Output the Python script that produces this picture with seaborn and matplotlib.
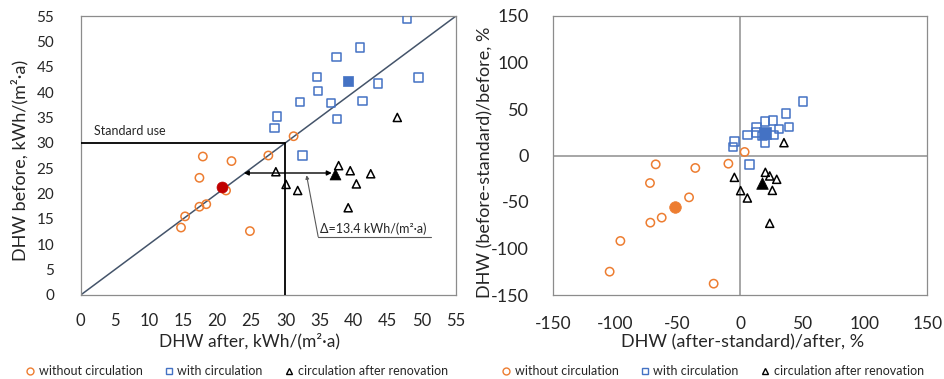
import matplotlib
matplotlib.use("Agg")
import matplotlib.pyplot as plt
from matplotlib.lines import Line2D
import numpy as np
import seaborn as sns

# ---- absolute DHW demand, kWh/(m2 a): after vs. before ----
after_without = [14.7, 15.3, 17.4, 18.4, 17.4, 17.9, 22.1, 21.3, 24.8, 27.5, 31.2]
before_without = [13.3, 15.5, 17.4, 17.9, 23.1, 27.3, 26.4, 20.6, 12.6, 27.5, 31.3]
mean_after_without, mean_before_without = 20.7, 21.2

after_with = [47.8, 40.9, 37.5, 34.6, 34.8, 49.5, 43.6, 32.1, 36.7, 41.3, 37.6, 28.8, 28.4, 32.5]
before_with = [54.5, 48.8, 46.9, 43.0, 40.2, 42.9, 41.7, 38.1, 37.9, 38.2, 34.7, 35.2, 32.9, 27.5]
mean_after_with, mean_before_with = 39.1, 42.2

after_renov = [46.4, 37.8, 39.5, 42.5, 40.4, 39.2, 28.6, 30.1, 31.8]
before_renov = [35.0, 25.5, 24.5, 23.9, 21.9, 17.2, 24.3, 21.8, 20.6]
mean_after_renov, mean_before_renov = 37.3, 23.9

standard_use = 30
delta_renov = 13.4

# ---- relative deviation from the standard, % ----
rel_after_without = [-104.4, -95.8, -71.8, -62.7, -72.1, -67.5, -40.8, -35.8, -9.3, 3.7, -21.1]
rel_before_without = [-124.9, -91.9, -72.2, -66.8, -29.6, -9.5, -45.0, -13.4, -8.8, 3.8, -137.8]
rel_mean_without = (-51.8, -55.0)

rel_after_with = [50.7, 36.8, 39.2, 26.4, 20.0, 31.2, 13.1, 13.1, 17.9, 27.0, 20.0, 5.9, -4.3, -5.6, 7.5]
rel_before_with = [58.2, 45.3, 30.3, 37.8, 36.4, 28.5, 30.3, 24.6, 21.0, 21.7, 13.4, 21.7, 15.2, 9.1, -9.5]
rel_mean_with = (20.3, 24.6)

rel_after_renov = [35.2, -4.5, 0.5, 5.9, 20.3, 23.8, 29.4, 25.9, 23.8]
rel_before_renov = [13.8, -23.5, -37.8, -45.7, -18.1, -22.0, -25.6, -37.5, -72.9]
rel_mean_renov = (17.9, -29.9)

labels = ["without circulation", "with circulation", "circulation after renovation"]

ORANGE = "#ED7D31"
BLUE = "#4472C4"
DARKRED = "#C00000"
GRID_GREY = "#8C8C8C"

sns.set_theme(style="white")
FONT = ["Lato", "DejaVu Sans"]
plt.rcParams["font.family"] = FONT
plt.rcParams["text.color"] = "#262626"
plt.rcParams["axes.unicode_minus"] = False

fig = plt.figure(figsize=(9.44, 3.79), dpi=100)
ax1 = fig.add_axes([80.7 / 944, 1 - 295 / 379, 375.3 / 944, 279 / 379])
ax2 = fig.add_axes([552.7 / 944, 1 - 295 / 379, 374.6 / 944, 279 / 379])


def hollow(ax, x, y, marker, color, size=36):
    sns.scatterplot(x=x, y=y, ax=ax, marker=marker, s=size, color=color,
                    facecolor="none", edgecolor=color, linewidth=1.1, zorder=4)


def solid(ax, x, y, marker, color, size=60):
    sns.scatterplot(x=[x], y=[y], ax=ax, marker=marker, s=size, color=color,
                    edgecolor=color, linewidth=0.5, zorder=5)


# ---------------- left panel ----------------
ax1.plot([0, 55], [0, 55], color="#44546A", lw=1.1, zorder=2)
ax1.plot([0, standard_use], [standard_use, standard_use], color="black", lw=1.3, zorder=3)
ax1.plot([standard_use, standard_use], [0, standard_use], color="black", lw=1.3, zorder=3)
ax1.text(1.9, 32.3, "Standard use", fontsize=9, va="center", ha="left")

hollow(ax1, after_without, before_without, "o", ORANGE)
hollow(ax1, after_with, before_with, "s", BLUE)
hollow(ax1, after_renov, before_renov, "^", "black", size=34)
solid(ax1, mean_after_without, mean_before_without, "o", DARKRED, 62)
solid(ax1, mean_after_with, mean_before_with, "s", BLUE, 62)
solid(ax1, mean_after_renov, mean_before_renov, "^", "black", 62)

# saving after renovation
ax1.annotate("", xy=(mean_after_renov - delta_renov, 24.05), xytext=(mean_after_renov - 0.5, 24.05),
             arrowprops=dict(arrowstyle="<|-|>", color="black", lw=1.0,
                             mutation_scale=7, shrinkA=0, shrinkB=0), zorder=3)
ax1.annotate("", xy=(33.1, 23.6), xytext=(34.8, 11.5),
             arrowprops=dict(arrowstyle="-|>", color="#595959", lw=0.8,
                             mutation_scale=5, shrinkA=0, shrinkB=0))
ax1.plot([34.8, 51.3], [11.5, 11.5], color="#595959", lw=0.8)
ax1.text(35.0, 11.9, f"Δ={delta_renov} kWh/(m²·a)", fontsize=9, ha="left", va="bottom")

ax1.set_xlim(0, 55)
ax1.set_ylim(0, 55)
ax1.set_xticks(np.arange(0, 56, 5))
ax1.set_yticks(np.arange(0, 56, 5))
ax1.tick_params(axis="both", direction="in", length=6, width=0.8, color=GRID_GREY,
                colors="#262626")
ax1.tick_params(axis="x", labelsize=12, pad=13)
ax1.tick_params(axis="y", labelsize=11, pad=19)
for sp in ax1.spines.values():
    sp.set_color(GRID_GREY)
    sp.set_linewidth(0.9)
ax1.set_xlabel("")
ax1.set_ylabel("")
fig.text(249 / 944, 1 - 341 / 379, "DHW after, kWh/(m²·a)", fontsize=12.5, ha="center", va="center")
fig.text(20 / 944, 1 - 160 / 379, "DHW before, kWh/(m²·a)", fontsize=13, ha="center", va="center",
         rotation=90)

# ---------------- right panel ----------------
ax2.axhline(0, color="#A6A6A6", lw=1.4, zorder=1)
ax2.axvline(0, color="#A6A6A6", lw=1.4, zorder=1)
hollow(ax2, rel_after_without, rel_before_without, "o", ORANGE)
hollow(ax2, rel_after_with, rel_before_with, "s", BLUE)
hollow(ax2, rel_after_renov, rel_before_renov, "^", "black", size=34)
solid(ax2, *rel_mean_without, "o", ORANGE, 70)
solid(ax2, *rel_mean_with, "s", BLUE, 70)
solid(ax2, *rel_mean_renov, "^", "black", 70)

ax2.set_xlim(-150, 150)
ax2.set_ylim(-150, 150)
ax2.set_xticks(np.arange(-150, 151, 50))
ax2.set_yticks(np.arange(-150, 151, 50))
ax2.tick_params(axis="both", length=0, colors="#262626")
ax2.tick_params(axis="x", labelsize=12.5, pad=15)
ax2.tick_params(axis="y", labelsize=13, pad=17)
for sp in ax2.spines.values():
    sp.set_color(GRID_GREY)
    sp.set_linewidth(0.9)
ax2.set_xlabel("")
ax2.set_ylabel("")
fig.text(743 / 944, 1 - 342 / 379, "DHW (after-standard)/after, %", fontsize=13, ha="center",
         va="center")
fig.text(485 / 944, 1 - 162 / 379, "DHW (before-standard)/before, %", fontsize=13, ha="center",
         va="center", rotation=90)

# ---------------- legends ----------------
handles = [
    Line2D([], [], ls="none", marker="o", ms=5, mfc="none", mec=ORANGE, mew=1.0),
    Line2D([], [], ls="none", marker="s", ms=5, mfc="none", mec=BLUE, mew=1.0),
    Line2D([], [], ls="none", marker="^", ms=5, mfc="none", mec="black", mew=1.0),
]
for cx in (237 / 944, 713 / 944):
    fig.legend(handles, labels, loc="center", bbox_to_anchor=(cx, 1 - 371 / 379), ncol=3,
               frameon=False, fontsize=9, handlelength=0.6, handletextpad=0.4,
               columnspacing=1.8, borderaxespad=0)

fig.savefig("out.png", dpi=100)
